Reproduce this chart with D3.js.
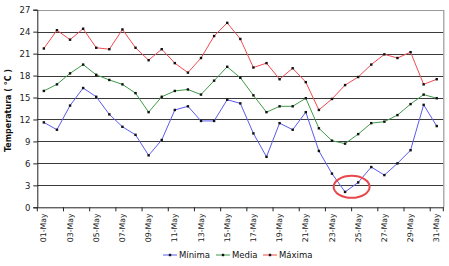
<!DOCTYPE html>
<html>
<head>
<meta charset="utf-8">
<script src="https://cdn.jsdelivr.net/npm/d3@7"></script>
<style>
  body { margin: 0; background: #fff; }
  text { font-family: "DejaVu Sans", Verdana, sans-serif; }
</style>
</head>
<body>
<div id="chart"></div>
<script>
// data
const days = ["01-May","02-May","03-May","04-May","05-May","06-May","07-May","08-May","09-May","10-May",
  "11-May","12-May","13-May","14-May","15-May","16-May","17-May","18-May","19-May","20-May",
  "21-May","22-May","23-May","24-May","25-May","26-May","27-May","28-May","29-May","30-May","31-May"];
const minima = [11.6,10.6,13.9,16.3,15.1,12.7,11.0,9.9,7.1,9.2,13.3,13.8,11.8,11.8,14.7,14.2,10.1,6.9,11.5,10.6,
  13.0,7.7,4.6,2.1,3.4,5.5,4.4,6.0,7.8,14.0,11.1];
const media = [15.9,16.8,18.3,19.5,18.1,17.4,16.8,15.6,13.0,15.1,15.9,16.1,15.4,17.3,19.2,17.7,15.3,13.0,13.8,13.8,
  14.9,10.8,9.1,8.7,10.0,11.5,11.7,12.6,14.1,15.4,14.9];
const maxima = [21.7,24.2,22.9,24.4,21.8,21.6,24.3,21.8,20.1,21.6,19.7,18.4,20.4,23.4,25.2,23.0,19.1,19.7,17.5,19.0,
  17.1,13.3,14.8,16.7,17.8,19.5,20.9,20.4,21.2,16.8,17.5];
const yTicks = [0,3,6,9,12,15,18,21,24,27];
const seriesNames = ["Mínima","Media","Máxima"];
const seriesColors = ["#5a5af0","#3f9a48","#f04a50"];

const W = 449, H = 266;
const margin = { top: 9.7, right: 5.7, bottom: 58.7, left: 37.3 };

const svg = d3.select("#chart").append("svg")
  .attr("width", W).attr("height", H);

const x = d3.scaleBand().domain(days).range([margin.left, W - margin.right]).padding(0);
const y = d3.scaleLinear().domain([0, 27]).range([H - margin.bottom, margin.top]);
const cx = d => x(d) + x.bandwidth() / 2;

// gridlines
svg.append("g").selectAll("line")
  .data(yTicks.slice(1, -1))
  .join("line")
  .attr("x1", margin.left).attr("x2", W - margin.right)
  .attr("y1", d => Math.round(y(d)) + 0.5).attr("y2", d => Math.round(y(d)) + 0.5)
  .attr("stroke", "#3a3a3a").attr("stroke-width", 1.1);

// plot border (top / right)
svg.append("path")
  .attr("d", `M${margin.left},${Math.round(y(27)) + 0.5}H${W - margin.right + 0.5}V${y(0)}`)
  .attr("fill", "none").attr("stroke", "#999").attr("stroke-width", 1.2);

// y axis
const yAxis = svg.append("g")
  .attr("transform", `translate(${margin.left},0)`)
  .call(d3.axisLeft(y).tickValues(yTicks).tickSize(4).tickPadding(3));
yAxis.select(".domain").attr("stroke", "#222");
yAxis.selectAll(".tick line").attr("stroke", "#222");
yAxis.selectAll("text").attr("font-size", 8.5).attr("fill", "#222")
  .style("font-family", "DejaVu Sans, Verdana, sans-serif");

// x axis: labels on odd days, ticks on category borders every 2 days
const xAxis = svg.append("g")
  .attr("transform", `translate(0,${y(0)})`)
  .call(d3.axisBottom(x).tickValues(days.filter((d, i) => i % 2 === 0)).tickSize(0));
xAxis.select(".domain").attr("stroke", "#222");
xAxis.selectAll("text")
  .attr("font-size", 7.8).attr("fill", "#222")
  .style("font-family", "DejaVu Sans, Verdana, sans-serif")
  .attr("transform", "rotate(-90)")
  .attr("text-anchor", "end")
  .attr("x", -6).attr("y", 0).attr("dy", "0.33em");
const borders = days.filter((d, i) => i % 2 === 0).map(d => x(d)).concat([x.range()[1]]);
xAxis.append("g").selectAll("line")
  .data(borders)
  .join("line")
  .attr("x1", d => d).attr("x2", d => d)
  .attr("y1", 0).attr("y2", 4)
  .attr("stroke", "#222");

// y title
svg.append("text")
  .attr("transform", `translate(11,${(y(0) + y(27)) / 2 + 2}) rotate(-90)`)
  .attr("text-anchor", "middle")
  .attr("font-size", 8).attr("font-weight", "bold").attr("fill", "#111")
  .text("Temperatura ( °C )");

// series
const seriesData = [minima, media, maxima];
const line = d3.line().x((v, i) => cx(days[i])).y(v => y(v));
seriesData.forEach((vals, k) => {
  svg.append("path")
    .datum(vals)
    .attr("d", line)
    .attr("fill", "none")
    .attr("stroke", seriesColors[k])
    .attr("stroke-width", 1);
  svg.append("g").selectAll("rect")
    .data(vals)
    .join("rect")
    .attr("x", (v, i) => cx(days[i]) - 1.2)
    .attr("y", v => y(v) - 1.2)
    .attr("width", 2.4).attr("height", 2.4)
    .attr("fill", "#111");
});

// red ellipse annotation around 24-25 May minimum
svg.append("ellipse")
  .attr("cx", (cx(days[23]) + cx(days[24])) / 2)
  .attr("cy", y(2.8))
  .attr("rx", 18).attr("ry", 11)
  .attr("fill", "none")
  .attr("stroke", "#e8484c")
  .attr("stroke-width", 2);

// legend
const legendX = [163, 216, 263];
const legendY = 255;
const lg = svg.append("g");
seriesNames.forEach((name, k) => {
  const g = lg.append("g").attr("transform", `translate(${legendX[k]},${legendY})`);
  g.append("line").attr("x1", 0).attr("x2", 14).attr("y1", 0).attr("y2", 0)
    .attr("stroke", seriesColors[k]).attr("stroke-width", 1);
  g.append("rect").attr("x", 5.8).attr("y", -1.2).attr("width", 2.4).attr("height", 2.4).attr("fill", "#111");
  g.append("text").attr("x", 16).attr("y", 0).attr("dy", "0.35em")
    .attr("font-size", 8.5).attr("fill", "#111")
    .text(name);
});
</script>
</body>
</html>
